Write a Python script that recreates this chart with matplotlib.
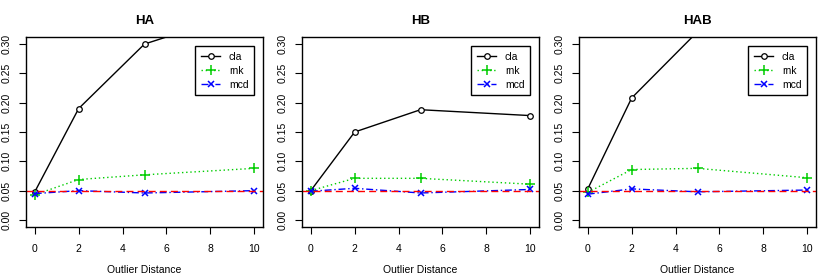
import matplotlib
matplotlib.use("Agg")
import matplotlib.pyplot as plt
import numpy as np

plt.rcParams['font.family'] = ['Liberation Sans', 'DejaVu Sans']

distance = [0, 2, 5, 10]
panels = ["HA", "HB", "HAB"]

cla = {
    "HA": [0.048, 0.190, 0.300, 0.360],
    "HB": [0.050, 0.150, 0.188, 0.178],
    "HAB": [0.053, 0.208, 0.321, 0.400],
}
rnk = {
    "HA": [0.043, 0.069, 0.077, 0.088],
    "HB": [0.050, 0.071, 0.071, 0.061],
    "HAB": [0.047, 0.086, 0.088, 0.072],
}
mcd = {
    "HA": [0.045, 0.050, 0.046, 0.050],
    "HB": [0.049, 0.054, 0.046, 0.052],
    "HAB": [0.044, 0.053, 0.048, 0.051],
}
nominal = 0.05

yticks = [0.00, 0.05, 0.10, 0.15, 0.20, 0.25, 0.30]
xticks = [0, 2, 4, 6, 8, 10]

fig = plt.figure(figsize=(8.3, 2.77), dpi=100)
lefts = [26, 302, 579]
width = 237
for name, left in zip(panels, lefts):
    ax = fig.add_axes([left / 830, 1 - 227 / 277, width / 830, 190 / 277])
    ax.plot(distance, cla[name], color='black', lw=1, marker='o', ms=4,
            mfc='white', mec='black', mew=0.9, label='cla')
    ax.plot(distance, rnk[name], color='#00cd00', lw=1, ls=(0, (1, 2)),
            marker='+', ms=7, mew=1.1, label='rnk')
    ax.plot(distance, mcd[name], color='blue', lw=1, ls=(0, (5, 2, 1, 2)),
            marker='x', ms=5, mew=1.1, label='mcd')
    ax.axhline(nominal, color='red', lw=1, ls=(0, (5, 3)))

    ax.set_xlim(-0.4, 10.4)
    ax.set_ylim(-0.012, 0.312)
    ax.set_xticks(xticks)
    ax.set_yticks(yticks)
    ax.set_yticklabels([f"{v:.2f}" for v in yticks], rotation=90, va='center')
    ax.tick_params(direction='out', length=5, width=0.8, labelsize=7.5, pad=5)
    ax.tick_params(axis='x', pad=7)
    for s in ax.spines.values():
        s.set_linewidth(1)
    ax.set_title(name, fontsize=9.5, fontweight='bold', pad=9)
    ax.set_xlabel("Outlier Distance", fontsize=7.5, labelpad=8)

    leg = ax.legend(loc='upper right', fontsize=7.5, fancybox=False,
                    edgecolor='black', framealpha=1, handlelength=1.9,
                    borderaxespad=0.9, labelspacing=0.4, handletextpad=0.8,
                    borderpad=0.5)
    leg.get_frame().set_linewidth(1)

fig.savefig("out.png", dpi=100)
